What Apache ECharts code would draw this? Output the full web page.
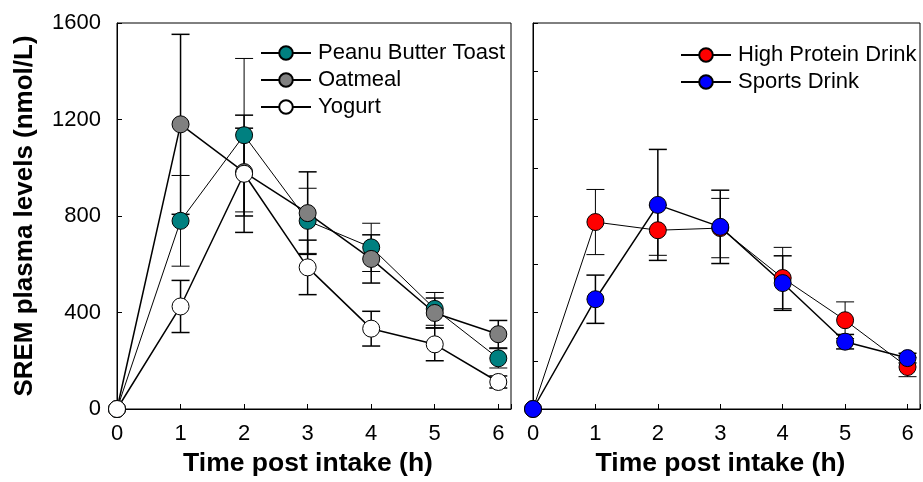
<!DOCTYPE html>
<html>
<head>
<meta charset="utf-8">
<script src="https://cdn.jsdelivr.net/npm/echarts@6/dist/echarts.min.js"></script>
<style>
  html, body { margin: 0; padding: 0; background: #fff; }
  #main { width: 923px; height: 482px; }
</style>
</head>
<body>
<div id="main"></div>
<script>
// time points (h)
var times = [0, 1, 2, 3, 4, 5, 6];

// left panel: means and error (nmol/L)
var pbtMean = [0, 780, 1135, 780, 670, 415, 210];
var pbtErr = [0, 188, 318, 135, 100, 68, 40];
var oatMean = [0, 1180, 982, 812, 622, 398, 310];
var oatErr = [0, 373, 182, 171, 100, 62, 57];
var yogMean = [0, 425, 975, 587, 333, 268, 112];
var yogErr = [0, 108, 243, 113, 72, 68, 25];

// right panel
var hpMean = [0, 775, 741, 750, 543, 368, 174];
var hpErr = [0, 135, 104, 123, 127, 76, 40];
var spMean = [0, 455, 846, 755, 522, 279, 211];
var spErr = [0, 100, 230, 152, 113, 30, 20];

var font = 'Liberation Sans, Arial, sans-serif';

function pts(mean) {
  return times.map(function (t, i) { return [t, mean[i]]; });
}
function bars(mean, err) {
  return times.map(function (t, i) { return [t, mean[i] - err[i], mean[i] + err[i]]; });
}

function errSeries(idx, mean, err, width) {
  return {
    type: 'custom',
    xAxisIndex: idx,
    yAxisIndex: idx,
    clip: false,
    z: 1,
    silent: true,
    encode: { x: 0, y: [1, 2] },
    data: bars(mean, err),
    renderItem: function (params, api) {
      var lo = api.coord([api.value(0), api.value(1)]);
      var hi = api.coord([api.value(0), api.value(2)]);
      if (api.value(2) - api.value(1) <= 0) return;
      var st = { stroke: '#000', lineWidth: width };
      var w = 9;
      return {
        type: 'group',
        children: [
          { type: 'line', shape: { x1: lo[0], y1: lo[1], x2: hi[0], y2: hi[1] }, style: st },
          { type: 'line', shape: { x1: lo[0] - w, y1: lo[1], x2: lo[0] + w, y2: lo[1] }, style: st },
          { type: 'line', shape: { x1: hi[0] - w, y1: hi[1], x2: hi[0] + w, y2: hi[1] }, style: st }
        ]
      };
    }
  };
}

function lineSeries(idx, name, mean, color, width) {
  return {
    name: name,
    type: 'line',
    xAxisIndex: idx,
    yAxisIndex: idx,
    clip: false,
    z: 3,
    symbol: 'circle',
    symbolSize: 17,
    data: pts(mean),
    lineStyle: { color: '#000', width: width },
    itemStyle: { color: color, borderColor: '#000', borderWidth: 1 },
    emphasis: { disabled: true }
  };
}

function xAx(idx) {
  return {
    type: 'value',
    gridIndex: idx,
    min: 0,
    max: 6.2,
    interval: 1,
    name: 'Time post intake (h)',
    nameLocation: 'middle',
    nameGap: 41,
    nameTextStyle: {
      fontFamily: font, fontSize: 26.5, fontWeight: 'bold', color: '#000',
      padding: [0, 12, 0, 0]
    },
    axisLine: { lineStyle: { color: '#000', width: 1 } },
    axisTick: { inside: true, length: 5, lineStyle: { color: '#000' } },
    axisLabel: {
      margin: 14, fontFamily: font, fontSize: 22, color: '#000',
      formatter: function (v) { return v % 1 === 0 ? String(v) : ''; }
    },
    splitLine: { show: false }
  };
}

var chart = echarts.init(document.getElementById('main'));
chart.setOption({
  animation: false,
  grid: [
    { left: 117, top: 23, width: 394, height: 390, show: true, borderColor: '#000', borderWidth: 1 },
    { left: 533, top: 23, width: 394, height: 390, show: true, borderColor: '#000', borderWidth: 1 }
  ],
  legend: [
    {
      data: ['Peanu Butter Toast', 'Oatmeal', 'Yogurt'],
      orient: 'vertical', left: 255, top: 37,
      itemWidth: 50, itemHeight: 17, itemGap: 5,
      textStyle: { fontFamily: font, fontSize: 22, color: '#000', padding: [0, 0, 0, 2] },
      selectedMode: false
    },
    {
      data: ['High Protein Drink', 'Sports Drink'],
      orient: 'vertical', left: 675, top: 39,
      itemWidth: 50, itemHeight: 17, itemGap: 5,
      textStyle: { fontFamily: font, fontSize: 22, color: '#000', padding: [0, 0, 0, 2] },
      selectedMode: false
    }
  ],
  xAxis: [xAx(0), xAx(1)],
  yAxis: [
    {
      type: 'value', gridIndex: 0, min: 0, max: 1600, interval: 400,
      name: 'SREM plasma levels (nmol/L)',
      nameLocation: 'middle', nameGap: 79,
      nameTextStyle: { fontFamily: font, fontSize: 26, fontWeight: 'bold', color: '#000' },
      axisLine: { show: true, lineStyle: { color: '#000', width: 1 } },
      axisTick: { show: true, inside: true, length: 5, lineStyle: { color: '#000' } },
      axisLabel: {
        margin: 16, fontFamily: font, fontSize: 22, color: '#000',
        formatter: function (v) { return String(v); }
      },
      splitLine: { show: false }
    },
    {
      type: 'value', gridIndex: 1, min: 0, max: 1600, interval: 200,
      axisLine: { show: true, lineStyle: { color: '#000', width: 1 } },
      axisTick: { show: true, inside: true, length: 5, lineStyle: { color: '#000' } },
      axisLabel: { show: false },
      splitLine: { show: false }
    }
  ],
  series: [
    errSeries(0, pbtMean, pbtErr, 1),
    errSeries(0, oatMean, oatErr, 1.5),
    errSeries(0, yogMean, yogErr, 1.5),
    lineSeries(0, 'Peanu Butter Toast', pbtMean, '#008080', 1),
    lineSeries(0, 'Oatmeal', oatMean, '#808080', 1.5),
    lineSeries(0, 'Yogurt', yogMean, '#ffffff', 1.5),
    errSeries(1, hpMean, hpErr, 1),
    errSeries(1, spMean, spErr, 1.5),
    lineSeries(1, 'High Protein Drink', hpMean, '#ff0000', 1),
    lineSeries(1, 'Sports Drink', spMean, '#0000ff', 1.5)
  ]
});
</script>
</body>
</html>
